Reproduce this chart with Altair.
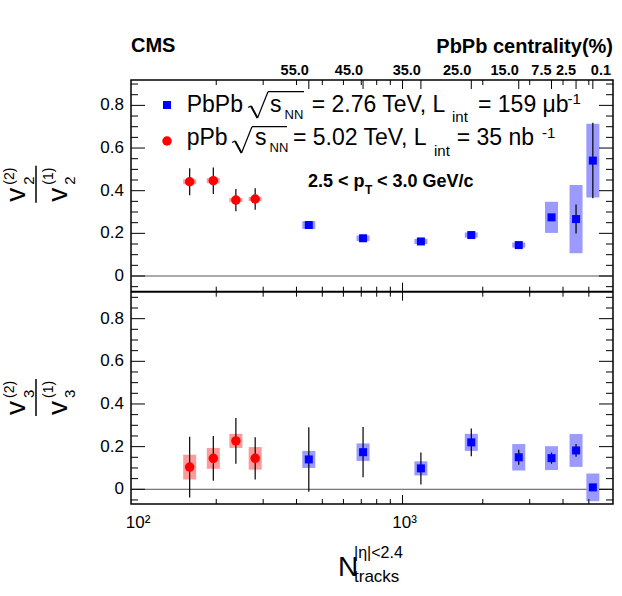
import altair as alt
import pandas as pd

FONT = "Liberation Sans"

# Multiplicity bins, N_trk with |eta| < 2.4
pbpb_ntrk = [445, 711, 1172, 1811, 2729, 3622, 4477, 5176]
ppb_ntrk = [159, 195, 237, 280]

# Upper panel: v2(2)/v2(1)
pbpb_v2 = [0.239, 0.177, 0.162, 0.192, 0.145, 0.275, 0.267, 0.541]
pbpb_v2_stat = [0.010, 0.008, 0.008, 0.008, 0.008, 0.015, 0.068, 0.177]
pbpb_v2_sys = [0.018, 0.013, 0.012, 0.012, 0.012, 0.073, 0.160, 0.173]
ppb_v2 = [0.442, 0.447, 0.356, 0.361]
ppb_v2_stat = [0.063, 0.062, 0.052, 0.050]
ppb_v2_sys = [0.012, 0.012, 0.010, 0.010]

# Lower panel: v3(2)/v3(1)
pbpb_v3 = [0.140, 0.174, 0.098, 0.220, 0.150, 0.146, 0.182, 0.009]
pbpb_v3_stat = [0.151, 0.118, 0.075, 0.065, 0.035, 0.026, 0.030, 0.010]
pbpb_v3_sys = [0.040, 0.041, 0.033, 0.040, 0.062, 0.056, 0.077, 0.065]
ppb_v3 = [0.104, 0.145, 0.227, 0.145]
ppb_v3_stat = [0.142, 0.105, 0.107, 0.099]
ppb_v3_sys = [0.058, 0.049, 0.033, 0.053]

# Axis ticks and labels
centrality_labels = ["55.0", "45.0", "35.0", "25.0", "15.0", "7.5", "2.5", "0.1"]
y_tick_values = [0, 0.2, 0.4, 0.6, 0.8]
y_tick_labels = ["0", "0.2", "0.4", "0.6", "0.8"]
y_minor_values = [-0.05, 0.05, 0.1, 0.15, 0.25, 0.3, 0.35, 0.45, 0.5, 0.55,
                  0.65, 0.7, 0.75, 0.85, 0.9]
x_label_values = [100, 1000]
x_labels = ["10²", "10³"]
x_minor_values = [200, 300, 400, 500, 600, 700, 800, 900, 2000, 3000, 4000, 5000]
x_major_values = [1000]

W, H = 482, 424
SHIFT = 1.0      # the upper panel lives on a shifted copy of the shared y scale
SPLIT = 211.7    # pixel row where the two panels meet

xs = alt.Scale(type="log", domain=[100, 5900], nice=False)
ys = alt.Scale(domain=[-0.069, 1.919], nice=False, zero=False)


def series(system, ntrk, vals, stat, sys, shift):
    return pd.DataFrame({
        "system": system,
        "ntrk": ntrk,
        "y": [v + shift for v in vals],
        "stat_lo": [v - e + shift for v, e in zip(vals, stat)],
        "stat_hi": [v + e + shift for v, e in zip(vals, stat)],
        "sys_lo": [v - e + shift for v, e in zip(vals, sys)],
        "sys_hi": [v + e + shift for v, e in zip(vals, sys)],
    })


df = pd.concat([
    series("PbPb", pbpb_ntrk, pbpb_v2, pbpb_v2_stat, pbpb_v2_sys, SHIFT),
    series("pPb", ppb_ntrk, ppb_v2, ppb_v2_stat, ppb_v2_sys, SHIFT),
    series("PbPb", pbpb_ntrk, pbpb_v3, pbpb_v3_stat, pbpb_v3_sys, 0.0),
    series("pPb", ppb_ntrk, ppb_v3, ppb_v3_stat, ppb_v3_sys, 0.0),
], ignore_index=True)

X = alt.X("ntrk:Q", scale=xs, axis=None)
base = alt.Chart(df)
layers = []

# zero reference lines of both panels
zeros = pd.DataFrame({"z": [0.0, SHIFT]})
layers.append(alt.Chart(zeros).mark_rule(color="#555555", strokeWidth=1).encode(
    y=alt.Y("z:Q", scale=ys, axis=None), x=alt.value(0), x2=alt.value(W)))

# systematic boxes
layers.append(base.mark_bar(size=13, orient="vertical").encode(
    x=X,
    y=alt.Y("sys_lo:Q", scale=ys, axis=None),
    y2="sys_hi:Q",
    color=alt.Color("system:N", legend=None,
                    scale=alt.Scale(domain=["PbPb", "pPb"], range=["#9a9aff", "#ff9a9a"])),
))

# statistical error bars
layers.append(base.mark_rule(color="black", strokeWidth=1.2).encode(
    x=X, y=alt.Y("stat_lo:Q", scale=ys, axis=None), y2="stat_hi:Q"))

# markers
layers.append(base.transform_filter(alt.datum.system == "PbPb").mark_point(
    shape="square", filled=True, opacity=1, size=64, color="#0000ff").encode(
    x=X, y=alt.Y("y:Q", scale=ys, axis=None)))
layers.append(base.transform_filter(alt.datum.system == "pPb").mark_point(
    shape="circle", filled=True, opacity=1, size=90, color="#ff0000").encode(
    x=X, y=alt.Y("y:Q", scale=ys, axis=None)))

# panel divider
one = pd.DataFrame({"_": [0]})
layers.append(alt.Chart(one).mark_rule(color="black", strokeWidth=2).encode(
    x=alt.value(0), x2=alt.value(W), y=alt.value(SPLIT)))

# inward y ticks on both sides of both panels
def yticks(vals, length):
    d = pd.DataFrame({"v": [v + s for s in (0.0, SHIFT) for v in vals]})
    out = []
    for x0, x1 in ((0, length), (W - length, W)):
        out.append(alt.Chart(d).mark_rule(color="black", strokeWidth=1).encode(
            y=alt.Y("v:Q", scale=ys, axis=None), x=alt.value(x0), x2=alt.value(x1)))
    return out


layers += yticks(y_tick_values, 14)
layers += yticks(y_minor_values, 7)

# inward x ticks on the edges of both panels
def xticks(vals, length):
    d = pd.DataFrame({"n": vals})
    out = []
    for y0, y1 in ((0, length), (SPLIT, SPLIT - length), (SPLIT, SPLIT + length), (H, H - length)):
        out.append(alt.Chart(d).mark_rule(color="black", strokeWidth=1).encode(
            x=alt.X("n:Q", scale=xs, axis=None), y=alt.value(y0), y2=alt.value(y1)))
    return out


layers += xticks(x_minor_values, 5)
layers += xticks(x_major_values, 9)

# centrality axis along the top
cent = pd.DataFrame({"n": pbpb_ntrk, "lab": centrality_labels})
cent_x = alt.X("n:Q", scale=xs, axis=None)
layers.append(alt.Chart(cent).mark_rule(color="black", strokeWidth=1).encode(
    x=cent_x, y=alt.value(0), y2=alt.value(9)))
layers.append(alt.Chart(cent).transform_filter(alt.datum.lab != "0.1").mark_text(
    font=FONT, fontSize=14.5, fontWeight="bold", align="right", baseline="alphabetic", dx=0).encode(
    x=cent_x, y=alt.value(-5), text="lab:N"))
layers.append(alt.Chart(cent).transform_filter(alt.datum.lab == "0.1").mark_text(
    font=FONT, fontSize=14.5, fontWeight="bold", align="left", baseline="alphabetic", dx=-2).encode(
    x=cent_x, y=alt.value(-5), text="lab:N"))

# y tick labels
ylab = pd.DataFrame({"v": [v + s for s in (0.0, SHIFT) for v in y_tick_values],
                     "lab": y_tick_labels * 2})
layers.append(alt.Chart(ylab).mark_text(
    font=FONT, fontSize=17, align="right", baseline="middle").encode(
    y=alt.Y("v:Q", scale=ys, axis=None), x=alt.value(-7), text="lab:N"))

# x tick labels
xlab = pd.DataFrame({"n": x_label_values, "lab": x_labels})
layers.append(alt.Chart(xlab).mark_text(
    font=FONT, fontSize=17, align="center", baseline="alphabetic", dx=2).encode(
    x=alt.X("n:Q", scale=xs, axis=None), y=alt.value(448), text="lab:N"))


def txt(s, x, y, size, weight="normal", align="left", angle=0, color="black"):
    return alt.Chart(one).mark_text(
        text=s, font=FONT, fontSize=size, fontWeight=weight, align=align,
        baseline="alphabetic", angle=angle, color=color).encode(
        x=alt.value(x), y=alt.value(y))


def seg(x0, y0, x1, y1, w=1.3):
    return alt.Chart(one).mark_rule(color="black", strokeWidth=w).encode(
        x=alt.value(x0), x2=alt.value(x1), y=alt.value(y0), y2=alt.value(y1))


def radical(x0, y_top, y_bot, x_end):
    # square-root sign: hook, down stroke, up stroke and the bar over the radicand
    xm = x0 + 8
    xt = x0 + 18.5
    y_mid = y_bot - 12
    return [
        seg(x0 - 1.5, y_mid + 1.5, x0 + 1.5, y_mid, 1.2),
        seg(x0 + 1.5, y_mid, xm, y_bot, 2.0),
        seg(xm, y_bot, xt, y_top, 1.2),
        seg(xt, y_top, x_end, y_top, 1.2),
    ]


# header
layers.append(txt("CMS", 0, -28, 20, "bold"))
layers.append(txt("PbPb centrality(%)", W, -27, 20, "bold", align="right"))

# legend
layers.append(alt.Chart(one).mark_point(shape="square", filled=True, opacity=1, size=64,
                                        color="#0000ff").encode(x=alt.value(36), y=alt.value(25)))
layers.append(alt.Chart(one).mark_point(shape="circle", filled=True, opacity=1, size=90,
                                        color="#ff0000").encode(x=alt.value(36), y=alt.value(61)))
layers += [txt("PbPb", 55.7, 31.7, 23)]
layers += radical(118.5, 11.7, 38, 173)
layers += [
    txt("s", 139, 31.7, 23),
    txt("NN", 153.5, 38.5, 13),
    txt("= 2.76 TeV, L", 180.7, 31.7, 23),
    txt("int", 321, 41.7, 15),
    txt("= 159 μb", 347, 31.7, 23),
    txt("-1", 436.5, 24, 15),
    txt("pPb", 55.7, 65, 23),
]
layers += radical(102.5, 46.7, 73, 156)
layers += [
    txt("s", 124, 65, 23),
    txt("NN", 138.5, 72, 13),
    txt("= 5.02 TeV, L", 162, 65, 23),
    txt("int", 303, 75.5, 15),
    txt("= 35 nb", 325.7, 65, 23),
    txt("-1", 411, 57.5, 15),
]

# kinematic range
layers += [
    txt("2.5 < p", 177, 107, 18, "bold"),
    txt("T", 234, 114, 12, "bold"),
    txt("< 3.0 GeV/c", 246, 107, 18, "bold"),
]

# y titles: rotated fractions, one per panel
def ratio_title(n, y0):
    return [
        txt("v", -106, y0, 28, angle=270),
        txt(n, -97, y0 - 17, 15, angle=270),
        txt("(2)", -117.5, y0 - 17, 14, angle=270),
        alt.Chart(one).mark_rule(color="black", strokeWidth=1.5).encode(
            x=alt.value(-95), y=alt.value(y0 - 36), y2=alt.value(y0 + 1)),
        txt("v", -64.3, y0, 28, angle=270),
        txt(n, -56, y0 - 17, 15, angle=270),
        txt("(1)", -78, y0 - 17, 14, angle=270),
    ]


layers += ratio_title("2", 121.7)
layers += ratio_title("3", 335)

# x title
layers += [
    txt("N", 207, 496, 28),
    txt("|η|<2.4", 223, 478, 16),
    txt("tracks", 223, 502, 17),
]

chart = alt.layer(*layers).properties(
    width=W, height=H,
    autosize=alt.AutoSizeParams(type="none"),
    padding={"left": 131, "top": 80, "right": 9, "bottom": 92},
).configure_view(stroke="black", strokeWidth=1.5)

chart.save("out.html", embed_options={"renderer": "svg", "actions": False})
